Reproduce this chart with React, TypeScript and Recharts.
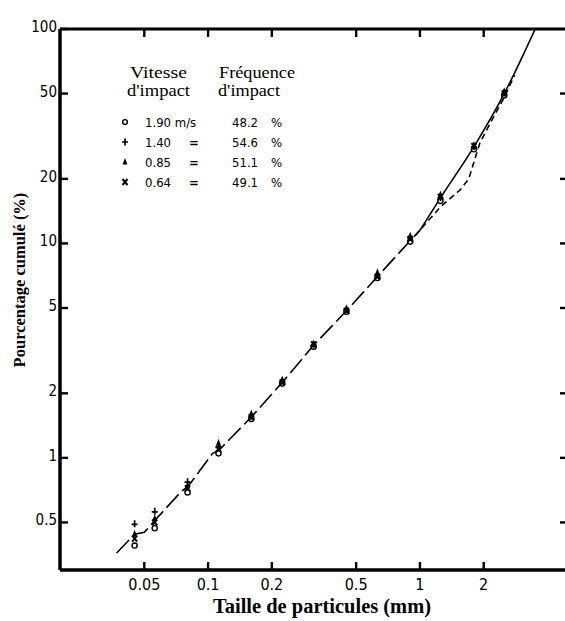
import React from 'react';
import { ComposedChart, XAxis, YAxis, Line, Scatter } from 'recharts';

// Sieve sizes (mm)
const sizes = [0.045, 0.056, 0.08, 0.112, 0.16, 0.224, 0.315, 0.45, 0.63, 0.9, 1.25, 1.8, 2.5];
// Cumulative percentage per impact speed
const pct190 = [0.39, 0.47, 0.69, 1.05, 1.52, 2.22, 3.3, 4.8, 6.9, 10.2, 15.8, 27.5, 49];
const pct140 = [0.49, 0.56, 0.77, 1.12, 1.56, 2.27, 3.35, 4.9, 7.1, 10.6, 16.3, 28.2, 50];
const pct085 = [0.44, 0.52, 0.74, 1.17, 1.6, 2.3, 3.4, 4.95, 7.3, 10.8, 16.8, 28.6, 51];
const pct064 = [0.42, 0.5, 0.72, 1.1, 1.55, 2.25, 3.38, 4.85, 7.0, 10.5, 16.5, 28.4, 50];

// Fitted curves
const lowCurveX = [0.037, 0.045, 0.05, 0.056, 0.075, 0.08, 0.105, 0.112, 0.16, 0.224, 0.315, 0.45, 0.63, 0.9, 1.0];
const lowCurveY = [0.36, 0.44, 0.45, 0.51, 0.7, 0.73, 1.05, 1.08, 1.55, 2.25, 3.35, 4.85, 7.0, 10.3, 11.5];
const highCurveX = [1.0, 1.25, 1.8, 2.5, 3.0, 3.5];
const highCurveY = [11.5, 16.3, 28.3, 50, 72, 100];
const dashCurveX = [0.95, 1.25, 1.55, 1.7, 1.92, 2.2, 2.5, 2.8];
const dashCurveY = [10.9, 14.8, 17.8, 20, 29.5, 38, 48, 61];

const xTicks = [0.05, 0.1, 0.2, 0.5, 1, 2];
const yTicks = [0.5, 1, 2, 5, 10, 20, 50, 100];

const legendSpeeds = ['1.90 m/s', '1.40', '0.85', '0.64'];
const legendFreqs = ['48.2', '54.6', '51.1', '49.1'];

const pts = (xs: number[], ys: number[]) => xs.map((x, i) => ({ x, y: ys[i] }));

const tickFont = '"DejaVu Sans Condensed", "DejaVu Sans", sans-serif';
const serif = '"Liberation Serif", "DejaVu Serif", serif';

// Custom ticks: an inward tick mark (filled rect) plus the label.
const LeftTick = (props: any) => {
  const x = Number(props.x);
  const y = Number(props.y);
  return (
    <g>
      <rect x={x} y={y - 1.2} width={8} height={2.4} fill="#000" />
      <text x={x - 3} y={y + 3} textAnchor="end" fontFamily={tickFont} fontSize={15} fill="#000">
        {String(props.payload.value)}
      </text>
    </g>
  );
};
const BottomTick = (props: any) => {
  const x = Number(props.x);
  const y = Number(props.y);
  return (
    <g>
      <rect x={x - 1.2} y={y - 8} width={2.4} height={8} fill="#000" />
      <text x={x} y={y + 20} textAnchor="middle" fontFamily={tickFont} fontSize={16} fill="#000">
        {String(props.payload.value)}
      </text>
    </g>
  );
};
const TopTick = (props: any) => {
  const x = Number(props.x);
  const y = Number(props.y);
  return <rect x={x - 1.2} y={y} width={2.4} height={8} fill="#000" />;
};
const RightTick = (props: any) => {
  const x = Number(props.x);
  const y = Number(props.y);
  return <rect x={x - 8} y={y - 1.2} width={8} height={2.4} fill="#000" />;
};

const CircleMark = (p: any) => (
  <circle cx={p.cx} cy={p.cy} r={2.6} fill="#fff" stroke="#000" strokeWidth={1.4} />
);
const PlusMark = (p: any) => (
  <path d={`M${p.cx - 3},${p.cy}H${p.cx + 3}M${p.cx},${p.cy - 4}V${p.cy + 3}`} stroke="#000" strokeWidth={1.7} fill="none" />
);
const TriMark = (p: any) => (
  <path d={`M${p.cx},${p.cy - 4.5}L${p.cx + 2.6},${p.cy + 2.5}L${p.cx - 2.6},${p.cy + 2.5}Z`} fill="#000" />
);
const CrossMark = (p: any) => (
  <path d={`M${p.cx - 2.5},${p.cy - 3}L${p.cx + 2.5},${p.cy + 3}M${p.cx + 2.5},${p.cy - 3}L${p.cx - 2.5},${p.cy + 3}`} stroke="#000" strokeWidth={2} fill="none" />
);

const legendMarks = [
  (cx: number, cy: number) => <circle cx={cx} cy={cy} r={2.4} fill="#fff" stroke="#000" strokeWidth={1.4} />,
  (cx: number, cy: number) => <path d={`M${cx - 3},${cy}H${cx + 3}M${cx},${cy - 3.5}V${cy + 3.5}`} stroke="#000" strokeWidth={1.7} />,
  (cx: number, cy: number) => <path d={`M${cx},${cy - 4}L${cx + 2.4},${cy + 2.5}L${cx - 2.4},${cy + 2.5}Z`} fill="#000" />,
  (cx: number, cy: number) => <path d={`M${cx - 2.5},${cy - 3}L${cx + 2.5},${cy + 3}M${cx + 2.5},${cy - 3}L${cx - 2.5},${cy + 3}`} stroke="#000" strokeWidth={2} />,
];

export default function App() {
  return (
    <div style={{ position: 'absolute', left: 0, top: 0, width: 565, height: 621, overflow: 'hidden', background: '#fff' }}>
      <ComposedChart width={575} height={621} margin={{ top: 28, right: 6, bottom: 21, left: 0 }}>
        <XAxis
          xAxisId="b"
          dataKey="x"
          type="number"
          scale="log"
          domain={[0.02, 5]}
          allowDataOverflow
          ticks={xTicks}
          interval={0}
          height={30}
          tickSize={0}
          tickMargin={0}
          tickLine={false}
          axisLine={{ stroke: '#000', strokeWidth: 3.5 }}
          tick={<BottomTick />}
        />
        <XAxis
          xAxisId="t"
          orientation="top"
          dataKey="x"
          type="number"
          scale="log"
          domain={[0.02, 5]}
          allowDataOverflow
          ticks={xTicks}
          interval={0}
          height={1}
          tickSize={0}
          tickMargin={0}
          tickLine={false}
          axisLine={{ stroke: '#000', strokeWidth: 3 }}
          tick={<TopTick />}
        />
        <YAxis
          yAxisId="l"
          dataKey="y"
          type="number"
          scale="log"
          domain={[0.3, 100]}
          allowDataOverflow
          ticks={yTicks}
          interval={0}
          width={60}
          tickSize={0}
          tickMargin={0}
          tickLine={false}
          axisLine={{ stroke: '#000', strokeWidth: 3.5 }}
          tick={<LeftTick />}
        />
        <YAxis
          yAxisId="r"
          orientation="right"
          dataKey="y"
          type="number"
          scale="log"
          domain={[0.3, 100]}
          allowDataOverflow
          ticks={yTicks.slice(0, 7)}
          interval={0}
          width={1}
          tickSize={0}
          tickMargin={0}
          tickLine={false}
          axisLine={false}
          tick={<RightTick />}
        />
        <Line xAxisId="b" yAxisId="l" data={pts(lowCurveX, lowCurveY)} dataKey="y" type="linear" stroke="#000" strokeWidth={1.6} strokeDasharray="18 5" dot={false} isAnimationActive={false} />
        <Line xAxisId="b" yAxisId="l" data={pts(highCurveX, highCurveY)} dataKey="y" type="monotone" stroke="#000" strokeWidth={1.6} dot={false} isAnimationActive={false} />
        <Line xAxisId="b" yAxisId="l" data={pts(dashCurveX, dashCurveY)} dataKey="y" type="linear" stroke="#000" strokeWidth={1.6} strokeDasharray="6 4" dot={false} isAnimationActive={false} />
        <Scatter xAxisId="b" yAxisId="l" data={pts(sizes, pct190)} dataKey="y" shape={CircleMark} isAnimationActive={false} />
        <Scatter xAxisId="b" yAxisId="l" data={pts(sizes, pct140)} dataKey="y" shape={PlusMark} isAnimationActive={false} />
        <Scatter xAxisId="b" yAxisId="l" data={pts(sizes, pct085)} dataKey="y" shape={TriMark} isAnimationActive={false} />
        <Scatter xAxisId="b" yAxisId="l" data={pts(sizes, pct064)} dataKey="y" shape={CrossMark} isAnimationActive={false} />
      </ComposedChart>
      <svg width={565} height={621} style={{ position: 'absolute', left: 0, top: 0, pointerEvents: 'none' }}>
        <text x={130} y={78} fontFamily={serif} fontSize={17} textLength={57} lengthAdjust="spacingAndGlyphs" fill="#000">Vitesse</text>
        <text x={127} y={96} fontFamily={serif} fontSize={17} textLength={63} lengthAdjust="spacingAndGlyphs" fill="#000">d'impact</text>
        <text x={219} y={78} fontFamily={serif} fontSize={17} textLength={76} lengthAdjust="spacingAndGlyphs" fill="#000">Fréquence</text>
        <text x={218} y={96} fontFamily={serif} fontSize={17} textLength={62} lengthAdjust="spacingAndGlyphs" fill="#000">d'impact</text>
        {legendSpeeds.map((s, i) => {
          const cy = 122 + i * 20;
          return (
            <g key={s}>
              {legendMarks[i](125, cy)}
              <text x={145} y={cy + 5} fontFamily={tickFont} fontSize={13} fill="#000">{s}</text>
              {i > 0 ? (
                <text x={189} y={cy + 5} fontFamily={tickFont} fontSize={13} fontWeight="bold" fill="#000">=</text>
              ) : null}
              <text x={232} y={cy + 5} fontFamily={tickFont} fontSize={13} fill="#000">{legendFreqs[i]}</text>
              <text x={271} y={cy + 5} fontFamily={tickFont} fontSize={13} fill="#000">%</text>
            </g>
          );
        })}
        <text
          x={0}
          y={0}
          transform="translate(25,280) rotate(-90)"
          textAnchor="middle"
          fontFamily={serif}
          fontWeight="bold"
          fontSize={16.5}
          fill="#000"
        >
          Pourcentage cumulé (%)
        </text>
        <text
          x={322}
          y={613}
          textAnchor="middle"
          fontFamily={serif}
          fontWeight="bold"
          fontSize={20}
          textLength={218}
          lengthAdjust="spacingAndGlyphs"
          fill="#000"
        >
          Taille de particules (mm)
        </text>
      </svg>
    </div>
  );
}
